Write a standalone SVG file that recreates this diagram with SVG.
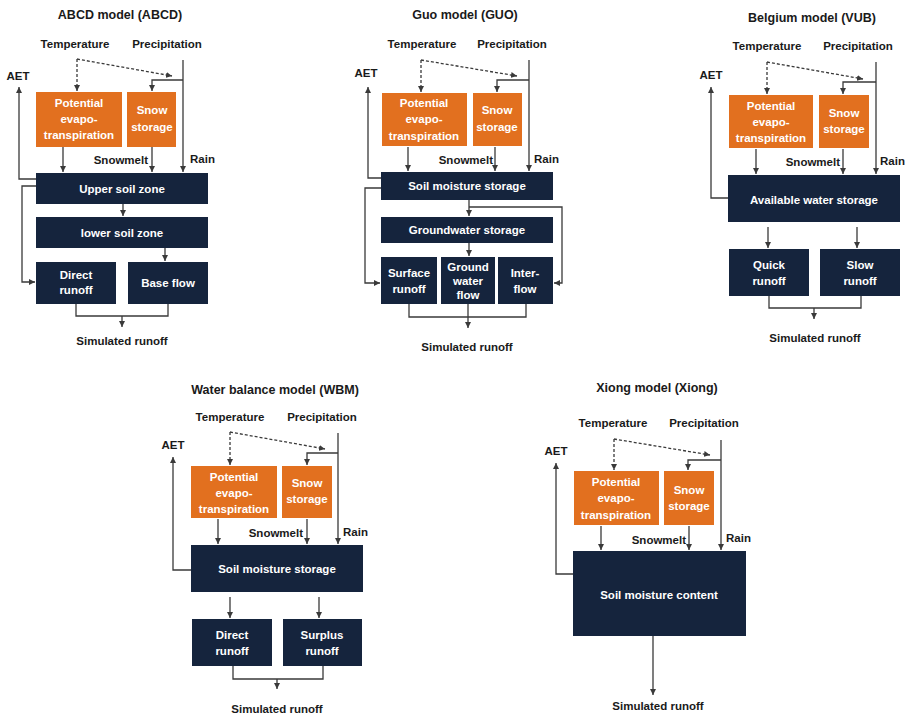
<svg xmlns="http://www.w3.org/2000/svg" width="906" height="716" viewBox="0 0 906 716">
<defs>
<marker id="ah" viewBox="0 0 6 6" refX="6" refY="3" markerWidth="6" markerHeight="6" markerUnits="userSpaceOnUse" orient="auto"><path d="M0,0 L6,3 L0,6 z" fill="#3a3a3a"/></marker>
<style>
text{font-family:"Liberation Sans",Arial,sans-serif;font-weight:bold;}
.t{font-size:12.5px;fill:#1a1a1a;text-anchor:middle;}
.l{font-size:11.5px;fill:#1a1a1a;text-anchor:middle;}
.le{font-size:11.5px;fill:#1a1a1a;text-anchor:end;}
.ls{font-size:11.5px;fill:#1a1a1a;text-anchor:start;}
.o{fill:#E2701F;}
.n{fill:#15243D;}
.w{font-size:11.5px;fill:#ffffff;text-anchor:middle;}
.c{fill:none;stroke:#3a3a3a;stroke-width:1.3;}
.a{marker-end:url(#ah);}
.d{stroke-dasharray:3,2;}
</style>
</defs>
<rect width="906" height="716" fill="#ffffff"/>

<!-- ===== ABCD ===== -->
<g id="abcd-labels">
<text class="t" x="120" y="19">ABCD model (ABCD)</text>
<text class="l" x="75" y="48">Temperature</text>
<text class="l" x="167" y="48">Precipitation</text>
<text class="l" x="18" y="80">AET</text>
<text class="le" x="148" y="164">Snowmelt</text>
<text class="ls" x="190" y="163">Rain</text>
<text class="l" x="122" y="345">Simulated runoff</text>
</g>
<g id="abcd-pet"><rect class="o" x="36" y="92" width="86" height="55"/><text class="w" x="79" y="107">Potential</text><text class="w" x="79" y="123">evapo-</text><text class="w" x="79" y="139">transpiration</text></g>
<g id="abcd-snow"><rect class="o" x="127" y="92" width="49" height="55"/><text class="w" x="152" y="114">Snow</text><text class="w" x="152" y="131">storage</text></g>
<g id="abcd-upper"><rect class="n" x="36" y="173" width="172" height="31"/><text class="w" x="122" y="193">Upper soil zone</text></g>
<g id="abcd-lower"><rect class="n" x="36" y="217" width="172" height="31"/><text class="w" x="122" y="237">lower soil zone</text></g>
<g id="abcd-direct"><rect class="n" x="36" y="262" width="80" height="42"/><text class="w" x="76" y="279">Direct</text><text class="w" x="76" y="294">runoff</text></g>
<g id="abcd-base"><rect class="n" x="128" y="262" width="80" height="42"/><text class="w" x="168" y="287">Base flow</text></g>
<g id="abcd-connectors">
<path class="c a" d="M36,179 H19 V87"/>
<path class="c a d" d="M77,59 V91"/>
<path class="c a d" d="M77,59 L172,76"/>
<path class="c a" d="M183,60 V172"/>
<path class="c a" d="M183,80 H152 V91"/>
<path class="c a" d="M63,147 V172"/>
<path class="c a" d="M152,147 V172"/>
<path class="c a" d="M123,204 V216"/>
<path class="c a" d="M36,186 H22 V282 H35"/>
<path class="c a" d="M165,248 V261"/>
<path class="c" d="M76,304 V316 H168 V304"/>
<path class="c a" d="M122,316 V327"/>
</g>

<!-- ===== GUO ===== -->
<g id="guo-labels">
<text class="t" x="465" y="19">Guo model (GUO)</text>
<text class="l" x="422" y="48">Temperature</text>
<text class="l" x="512" y="48">Precipitation</text>
<text class="l" x="366" y="77">AET</text>
<text class="le" x="493" y="164">Snowmelt</text>
<text class="ls" x="534" y="163">Rain</text>
<text class="l" x="467" y="351">Simulated runoff</text>
</g>
<g id="guo-pet"><rect class="o" x="382" y="93" width="85" height="53"/><text class="w" x="424" y="107">Potential</text><text class="w" x="424" y="123">evapo-</text><text class="w" x="424" y="140">transpiration</text></g>
<g id="guo-snow"><rect class="o" x="473" y="93" width="49" height="53"/><text class="w" x="497" y="114">Snow</text><text class="w" x="497" y="131">storage</text></g>
<g id="guo-sms"><rect class="n" x="381" y="172" width="172" height="28"/><text class="w" x="467" y="190">Soil moisture storage</text></g>
<g id="guo-gw"><rect class="n" x="381" y="217" width="172" height="26"/><text class="w" x="467" y="234">Groundwater storage</text></g>
<g id="guo-surface"><rect class="n" x="381" y="257" width="56" height="47"/><text class="w" x="409" y="277">Surface</text><text class="w" x="409" y="293">runoff</text></g>
<g id="guo-gwflow"><rect class="n" x="441" y="257" width="54" height="47"/><text class="w" x="468" y="271">Ground</text><text class="w" x="468" y="285">water</text><text class="w" x="468" y="299">flow</text></g>
<g id="guo-inter"><rect class="n" x="498" y="257" width="55" height="47"/><text class="w" x="525" y="277">Inter-</text><text class="w" x="525" y="293">flow</text></g>
<g id="guo-connectors">
<path class="c a" d="M381,178 H368 V87"/>
<path class="c a d" d="M421,60 V92"/>
<path class="c a d" d="M421,60 L517,76"/>
<path class="c a" d="M529,60 V171"/>
<path class="c a" d="M529,80 H497 V92"/>
<path class="c a" d="M408,147 V171"/>
<path class="c a" d="M495,147 V171"/>
<path class="c a" d="M469,200 V216"/>
<path class="c a" d="M469,207 H562 V283 H554"/>
<path class="c a" d="M381,188 H365 V283 H380"/>
<path class="c a" d="M469,243 V256"/>
<path class="c" d="M409,304 V317 H526 V304"/>
<path class="c a" d="M468,304 V328"/>
</g>

<!-- ===== VUB ===== -->
<g id="vub-labels">
<text class="t" x="812" y="22">Belgium model (VUB)</text>
<text class="l" x="767" y="50">Temperature</text>
<text class="l" x="858" y="50">Precipitation</text>
<text class="l" x="711" y="79">AET</text>
<text class="le" x="840" y="166">Snowmelt</text>
<text class="ls" x="880" y="165">Rain</text>
<text class="l" x="815" y="342">Simulated runoff</text>
</g>
<g id="vub-pet"><rect class="o" x="729" y="95" width="84" height="53"/><text class="w" x="771" y="110">Potential</text><text class="w" x="771" y="126">evapo-</text><text class="w" x="771" y="142">transpiration</text></g>
<g id="vub-snow"><rect class="o" x="819" y="95" width="50" height="53"/><text class="w" x="844" y="117">Snow</text><text class="w" x="844" y="133">storage</text></g>
<g id="vub-aws"><rect class="n" x="728" y="175" width="172" height="47"/><text class="w" x="814" y="204">Available water storage</text></g>
<g id="vub-quick"><rect class="n" x="729" y="249" width="80" height="47"/><text class="w" x="769" y="269">Quick</text><text class="w" x="769" y="285">runoff</text></g>
<g id="vub-slow"><rect class="n" x="820" y="249" width="80" height="47"/><text class="w" x="860" y="269">Slow</text><text class="w" x="860" y="285">runoff</text></g>
<g id="vub-connectors">
<path class="c a" d="M728,198 H711 V87"/>
<path class="c a d" d="M767,62 V94"/>
<path class="c a d" d="M767,62 L863,79"/>
<path class="c a" d="M876,62 V174"/>
<path class="c a" d="M876,82 H843 V94"/>
<path class="c a" d="M756,149 V174"/>
<path class="c a" d="M843,149 V174"/>
<path class="c a" d="M768,227 V248"/>
<path class="c a" d="M857,227 V248"/>
<path class="c" d="M769,296 V308 H861 V296"/>
<path class="c a" d="M814,308 V319"/>
</g>

<!-- ===== WBM ===== -->
<g id="wbm-labels">
<text class="t" x="275" y="394">Water balance model (WBM)</text>
<text class="l" x="230" y="421">Temperature</text>
<text class="l" x="322" y="421">Precipitation</text>
<text class="l" x="173" y="449">AET</text>
<text class="le" x="303" y="537">Snowmelt</text>
<text class="ls" x="343" y="536">Rain</text>
<text class="l" x="277" y="713">Simulated runoff</text>
</g>
<g id="wbm-pet"><rect class="o" x="191" y="466" width="86" height="52"/><text class="w" x="234" y="481">Potential</text><text class="w" x="234" y="497">evapo-</text><text class="w" x="234" y="513">transpiration</text></g>
<g id="wbm-snow"><rect class="o" x="282" y="466" width="50" height="52"/><text class="w" x="307" y="487">Snow</text><text class="w" x="307" y="503">storage</text></g>
<g id="wbm-sms"><rect class="n" x="191" y="545" width="172" height="47"/><text class="w" x="277" y="573">Soil moisture storage</text></g>
<g id="wbm-direct"><rect class="n" x="192" y="619" width="80" height="47"/><text class="w" x="232" y="639">Direct</text><text class="w" x="232" y="655">runoff</text></g>
<g id="wbm-surplus"><rect class="n" x="283" y="619" width="79" height="47"/><text class="w" x="322" y="639">Surplus</text><text class="w" x="322" y="655">runoff</text></g>
<g id="wbm-connectors">
<path class="c a" d="M191,570 H173 V457"/>
<path class="c a d" d="M230,432 V465"/>
<path class="c a d" d="M230,432 L325,449"/>
<path class="c a" d="M338,433 V544"/>
<path class="c a" d="M338,453 H307 V465"/>
<path class="c a" d="M218,519 V544"/>
<path class="c a" d="M307,519 V544"/>
<path class="c a" d="M230,597 V618"/>
<path class="c a" d="M319,597 V618"/>
<path class="c" d="M233,666 V679 H323 V666"/>
<path class="c a" d="M277,679 V689"/>
</g>

<!-- ===== Xiong ===== -->
<g id="xiong-labels">
<text class="t" x="657" y="392">Xiong model (Xiong)</text>
<text class="l" x="613" y="427">Temperature</text>
<text class="l" x="704" y="427">Precipitation</text>
<text class="l" x="556" y="455">AET</text>
<text class="le" x="686" y="544">Snowmelt</text>
<text class="ls" x="726" y="542">Rain</text>
<text class="l" x="658" y="710">Simulated runoff</text>
</g>
<g id="xiong-pet"><rect class="o" x="574" y="471" width="85" height="54"/><text class="w" x="616" y="486">Potential</text><text class="w" x="616" y="502">evapo-</text><text class="w" x="616" y="519">transpiration</text></g>
<g id="xiong-snow"><rect class="o" x="664" y="471" width="50" height="54"/><text class="w" x="689" y="494">Snow</text><text class="w" x="689" y="510">storage</text></g>
<g id="xiong-smc"><rect class="n" x="573" y="551" width="173" height="85"/><text class="w" x="659" y="599">Soil moisture content</text></g>
<g id="xiong-connectors">
<path class="c a" d="M573,574 H556 V463"/>
<path class="c a d" d="M614,439 V470"/>
<path class="c a d" d="M614,439 L710,455"/>
<path class="c a" d="M721,440 V550"/>
<path class="c a" d="M721,460 H688 V470"/>
<path class="c a" d="M601,526 V550"/>
<path class="c a" d="M689,526 V550"/>
<path class="c a" d="M653,636 V695"/>
</g>
</svg>
